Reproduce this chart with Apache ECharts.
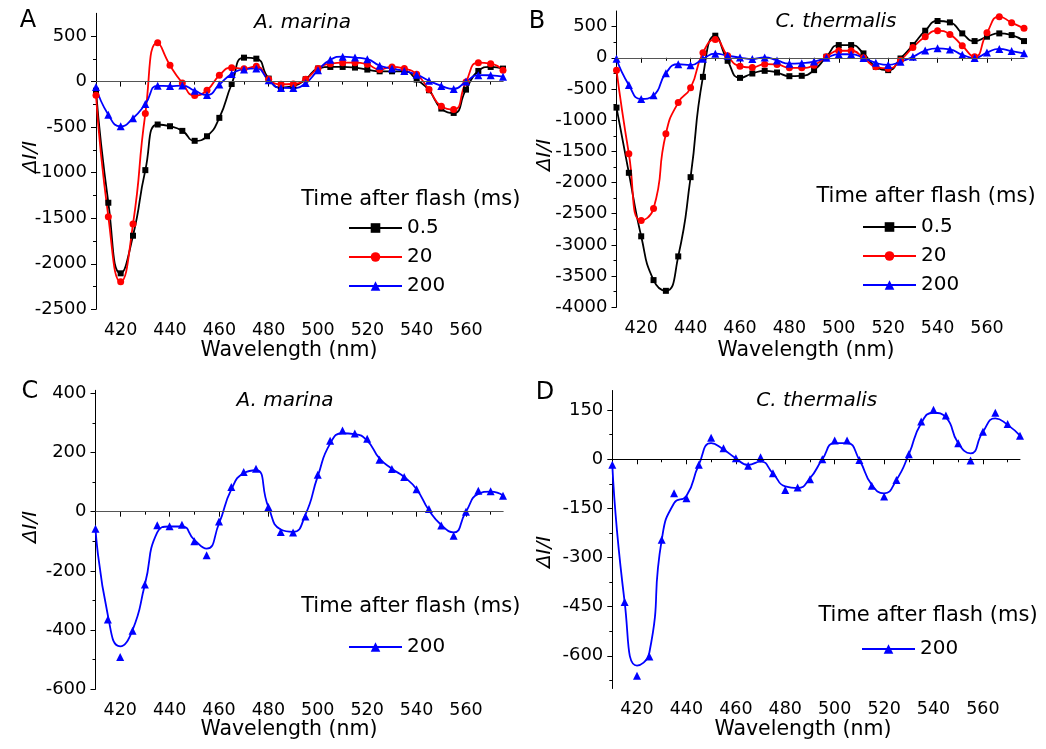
<!DOCTYPE html>
<html>
<head>
<meta charset="utf-8">
<script src="https://cdn.jsdelivr.net/npm/echarts@6/dist/echarts.min.js"></script>
<style>
html,body{margin:0;padding:0;background:#fff;}
#chart{width:1046px;height:749px;}
</style>
</head>
<body>
<div id="chart"></div>
<script>
// Wavelengths (nm)
const wavelengths = [410,415,420,425,430,435,440,445,450,455,460,465,470,475,480,485,490,495,500,505,510,515,520,525,530,535,540,545,550,555,560,565,570,575];

// Panel A: A. marina
const aMarina_05 = [-100,-1330,-2105,-1692,-972,-471,-490,-541,-650,-600,-398,-26,263,252,33,-66,-50,26,143,161,161,154,132,113,113,113,22,-95,-296,-344,-88,117,161,143];
const aMarina_20 = [-150,-1484,-2197,-1564,-351,428,179,-15,-153,-95,69,153,142,168,25,-29,-25,26,143,197,208,208,190,132,161,143,80,-88,-270,-307,-4,208,197,124];
const aMarina_200 = [-58,-364,-491,-402,-246,-46,-49,-44,-100,-147,-33,83,134,145,16,-69,-70,-16,125,240,274,264,246,175,144,117,76,9,-47,-81,0,71,69,54];

// Panel B: C. thermalis
const cThermalis_05 = [-799,-1844,-2862,-3564,-3736,-3184,-1914,-306,354,-48,-322,-252,-209,-236,-295,-289,-198,16,204,204,70,-145,-198,-11,204,434,590,568,391,268,338,391,364,268];
const cThermalis_20 = [-198,-1538,-2610,-2417,-1217,-718,-482,80,295,32,-134,-155,-102,-107,-161,-161,-118,16,113,113,0,-145,-172,-38,166,338,434,375,193,16,402,659,563,472];
const cThermalis_200 = [-17,-436,-661,-602,-246,-104,-119,-17,66,34,3,-20,6,-43,-94,-86,-61,0,57,57,-2,-81,-114,-63,15,115,151,134,49,-4,84,142,108,72];

const aMarina_200_fit = [-58,-350,-455,-400,-246,-70,-50,-50,-95,-125,-40,75,130,140,16,-60,-68,-10,120,230,265,262,240,180,145,117,76,5,-45,-70,0,60,68,55];
const cThermalis_200_fit = [-17,-436,-630,-590,-246,-134,-112,-17,49,30,3,-17,-7,-43,-83,-88,-58,0,49,49,-2,-78,-104,-63,15,110,142,128,49,18,84,125,105,72];

// Tick values
const xMajorTicks = [420,440,460,480,500,520,540,560];
const xMinorTicks = [410,430,450,470,490,510,530,550,570];
const yTicksA = [-2500,-2000,-1500,-1000,-500,0,500];
const yMinorA = [-2250,-1750,-1250,-750,-250,250];
const yTicksB = [-4000,-3500,-3000,-2500,-2000,-1500,-1000,-500,0,500];
const yMinorB = [-3750,-3250,-2750,-2250,-1750,-1250,-750,-250,250];
const yTicksC = [-600,-400,-200,0,200,400];
const yMinorC = [-500,-300,-100,100,300];
const yTicksD = [-600,-450,-300,-150,0,150];
const yMinorD = [-675,-525,-375,-225,-75,75];

const legendNames = ['0.5','20','200'];
const legendTitle = 'Time after flash (ms)';

const FONT = '"DejaVu Sans", sans-serif';
const chart = echarts.init(document.getElementById('chart'), null, {renderer:'canvas'});

const grids = [
  {left:96, top:13.3, width:407, height:296},
  {left:616.5, top:11, width:407.5, height:296.3},
  {left:95.5, top:390.3, width:407.5, height:299},
  {left:612.3, top:390.5, width:407.7, height:298}
];
const yRanges = [[-2500,750],[-4000,750],[-600,410],[-700,210]];
const yMajors = [yTicksA, yTicksB, yTicksC, yTicksD];
const yMinors = [yMinorA, yMinorB, yMinorC, yMinorD];
const plain = v => String(Math.round(v));

const xAxis = [], yAxis = [];
grids.forEach((g, gi) => {
  xAxis.push({type:'value', gridIndex:gi, min:410, max:575, position:'bottom',
    axisLine:{lineStyle:{color:'#000', width:1}},
    axisTick:{customValues:xMajorTicks, length:5, lineStyle:{color:'#000', width:1}},
    axisLabel:{customValues:xMajorTicks, formatter:plain, fontSize:17.5, fontFamily:FONT, color:'#000', margin:12},
    splitLine:{show:false}});
  xAxis.push({type:'value', gridIndex:gi, min:410, max:575, position:'bottom',
    axisLine:{show:false},
    axisTick:{customValues:xMinorTicks, length:3, lineStyle:{color:'#000', width:1}},
    axisLabel:{show:false}, splitLine:{show:false}});
  yAxis.push({type:'value', gridIndex:gi, min:yRanges[gi][0], max:yRanges[gi][1], position:'left',
    axisLine:{show:true, lineStyle:{color:'#000', width:1}},
    axisTick:{show:true, customValues:yMajors[gi], length:5, lineStyle:{color:'#000', width:1}},
    axisLabel:{customValues:yMajors[gi], formatter:plain, fontSize:18, fontFamily:FONT, color:'#000', margin:9},
    splitLine:{show:false}});
  yAxis.push({type:'value', gridIndex:gi, min:yRanges[gi][0], max:yRanges[gi][1], position:'left',
    axisLine:{show:false},
    axisTick:{show:true, customValues:yMinors[gi], length:3, lineStyle:{color:'#000', width:1}},
    axisLabel:{show:false}, splitLine:{show:false}});
});

function zeroLine(color) {
  return {silent:true, symbol:'none', label:{show:false}, animation:false,
    lineStyle:{color:color, width:1.2, type:'solid'}, data:[{yAxis:0}]};
}

function mkSeries(name, vals, gi, color, symbol, size, zeroColor) {
  const s = {
    type:'line', name:name, xAxisIndex:gi*2, yAxisIndex:gi*2,
    data: wavelengths.map((w,i)=>[w, vals[i]]),
    smooth:0.55, symbol:symbol, symbolSize:size, showAllSymbol:true,
    lineStyle:{color:color, width:1.8}, itemStyle:{color:color},
    animation:false
  };
  if (zeroColor) s.markLine = zeroLine(zeroColor);
  return s;
}

function mkFit(name, vals, gi, color, zeroColor) {
  return {
    type:'line', name:name, xAxisIndex:gi*2, yAxisIndex:gi*2,
    data: wavelengths.map((w,i)=>[w, vals[i]]),
    smooth:0.55, symbol:'none', showSymbol:false,
    lineStyle:{color:color, width:1.8}, itemStyle:{color:color},
    markLine: zeroLine(zeroColor), animation:false
  };
}
function mkPoints(name, vals, gi, color) {
  return {
    type:'scatter', name:name, xAxisIndex:gi*2, yAxisIndex:gi*2,
    data: wavelengths.map((w,i)=>[w, vals[i]]),
    symbol:'triangle', symbolSize:8, itemStyle:{color:color, opacity:1}, animation:false
  };
}

const series = [
  mkSeries('0.5', aMarina_05, 0, '#000000', 'rect', 6, '#555555'),
  mkSeries('20', aMarina_20, 0, '#ff0000', 'circle', 7),
  mkSeries('200', aMarina_200, 0, '#0000ff', 'triangle', 8),
  mkSeries('0.5', cThermalis_05, 1, '#000000', 'rect', 6, '#555555'),
  mkSeries('20', cThermalis_20, 1, '#ff0000', 'circle', 7),
  mkSeries('200', cThermalis_200, 1, '#0000ff', 'triangle', 8),
  mkFit('200 fit C', aMarina_200_fit, 2, '#0000ff', '#555555'),
  mkPoints('200 points C', aMarina_200, 2, '#0000ff'),
  mkFit('200 fit D', cThermalis_200_fit, 3, '#0000ff', '#000000'),
  mkPoints('200 points D', cThermalis_200, 3, '#0000ff')
];

function legendAt(left, top, names) {
  return {orient:'vertical', left:left, top:top, itemWidth:53, itemHeight:12, itemGap:9,
    selectedMode:false, data:names,
    textStyle:{fontSize:20, fontFamily:FONT, color:'#000', lineHeight:20}};
}

function txt(x, y, text, font, align, rot) {
  return {type:'text', x:x, y:y, rotation:rot||0, silent:true,
    style:{text:text, font:font, fill:'#000', textAlign:align||'center', textVerticalAlign:'middle',
      align:align||'center', verticalAlign:'middle'}};
}

const graphic = [
  txt(28, 20.5, 'A', '24px ' + FONT),
  txt(537, 21.7, 'B', '24px ' + FONT),
  txt(30, 392, 'C', '24px ' + FONT),
  txt(545, 393, 'D', '24px ' + FONT),
  txt(302.5, 23, 'A. marina', 'italic 20px ' + FONT),
  txt(836, 21.5, 'C. thermalis', 'italic 20px ' + FONT),
  txt(285, 401, 'A. marina', 'italic 20px ' + FONT),
  txt(816.7, 401, 'C. thermalis', 'italic 20px ' + FONT),
  txt(289, 351, 'Wavelength (nm)', '20.5px ' + FONT),
  txt(806, 351, 'Wavelength (nm)', '20.5px ' + FONT),
  txt(289, 730, 'Wavelength (nm)', '20.5px ' + FONT),
  txt(803, 730, 'Wavelength (nm)', '20.5px ' + FONT),
  txt(31, 157, '\u0394I/I', 'italic 20px ' + FONT, 'center', Math.PI/2),
  txt(545, 155, '\u0394I/I', 'italic 20px ' + FONT, 'center', Math.PI/2),
  txt(31, 527, '\u0394I/I', 'italic 20px ' + FONT, 'center', Math.PI/2),
  txt(545, 552, '\u0394I/I', 'italic 20px ' + FONT, 'center', Math.PI/2),
  txt(410.8, 200, legendTitle, '21px ' + FONT),
  txt(926, 197, legendTitle, '21px ' + FONT),
  txt(410.8, 607, legendTitle, '21px ' + FONT),
  txt(928, 616, legendTitle, '21px ' + FONT)
];

chart.setOption({
  backgroundColor:'#ffffff',
  animation:false,
  grid: grids.map(g => Object.assign({containLabel:false}, g)),
  xAxis: xAxis,
  yAxis: yAxis,
  legend: [
    legendAt(343, 213, legendNames),
    legendAt(857, 212, legendNames),
    legendAt(343, 632, ['200']),
    legendAt(856, 634, ['200'])
  ],
  graphic: graphic,
  series: series
});
</script>
</body>
</html>
